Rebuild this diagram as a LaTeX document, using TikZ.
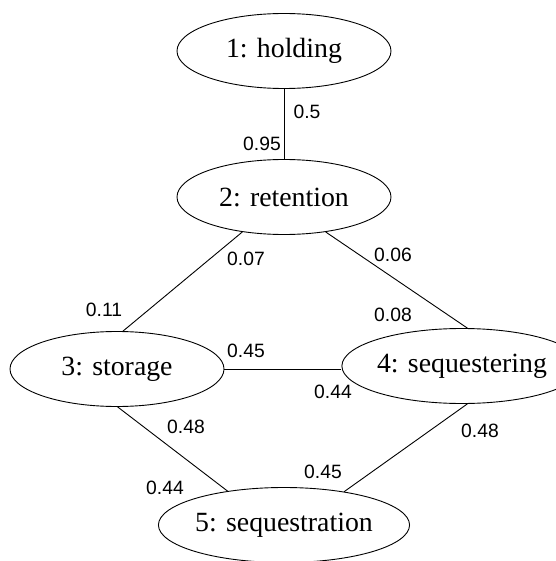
\documentclass[tikz,border=0pt]{standalone}
\usepackage{fontspec}
\setmainfont{Liberation Serif}
\setsansfont{Liberation Sans}
\usetikzlibrary{shapes.geometric}

\begin{document}
\begin{tikzpicture}[x=1pt,y=-1pt,line width=0.9pt,
	state/.style={ellipse,draw,minimum width=214pt,minimum height=75pt,inner sep=0pt,
		font=\fontsize{27.8}{30}\selectfont},
	weight/.style={inner sep=0pt,font=\sffamily\fontsize{19.3}{21}\selectfont}]
	\useasboundingbox (0,0) rectangle (555,561);
	% states
	\node[state] (n1) at (284,51) {1: holding};
	\node[state] (n2) at (284,197) {2: retention};
	\node[state] (n3) at (117,369) {3: storage};
	\node[state] (n4) at (462,366) {4: sequestering};
	\node[state] (n5) at (284,525) {5: sequestration};
	% links
	\draw (n1) -- (n2);
	\draw (n2.220) -- (n3.81);
	\draw (n2.320) -- (n4.82);
	\draw (n3.east) -- (n3.east -| n4.west);
	\draw (n3.271) -- (n5.149);
	\draw (n4.278) -- (n5.29);
	% weights
	\node[weight] (w12) at (307,112) {0.5};
	\node[weight] (w21) at (262,144) {0.95};
	\node[weight] (w23) at (246,259) {0.07};
	\node[weight] (w32) at (104,310) {0.11};
	\node[weight] (w24) at (393,255) {0.06};
	\node[weight] (w42) at (393,315) {0.08};
	\node[weight] (w34) at (246,351) {0.45};
	\node[weight] (w43) at (333,392) {0.44};
	\node[weight] (w35) at (186,427) {0.48};
	\node[weight] (w53) at (165,488) {0.44};
	\node[weight] (w45) at (480,431) {0.48};
	\node[weight] (w54) at (323,472) {0.45};
\end{tikzpicture}
\end{document}
